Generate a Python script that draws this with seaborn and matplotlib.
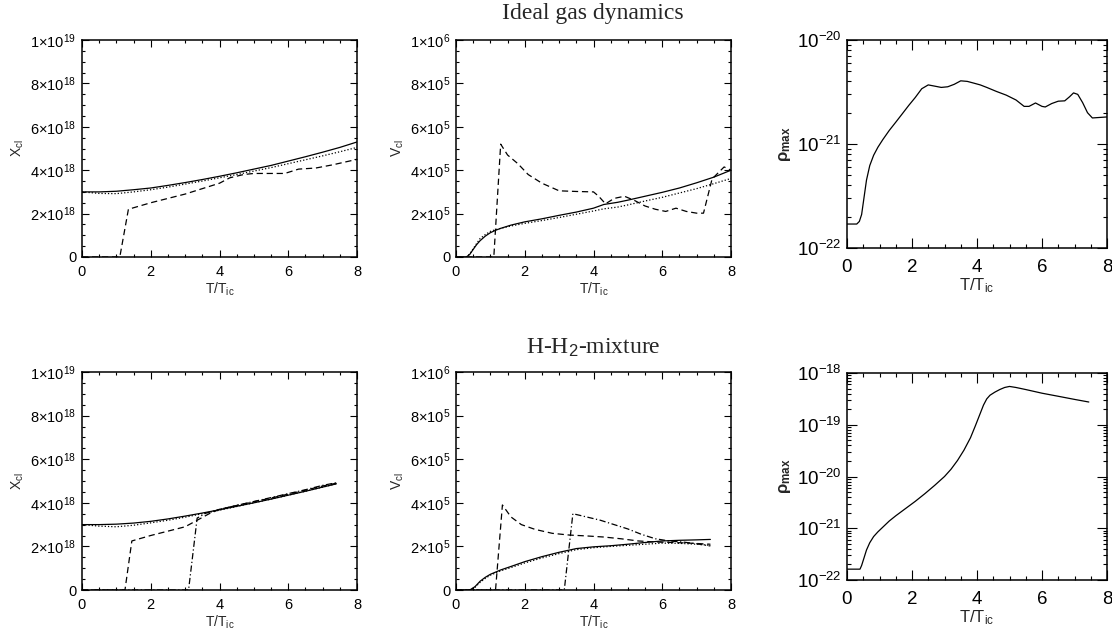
import numpy as np
import matplotlib
matplotlib.use("Agg")
import matplotlib.pyplot as plt
import seaborn as sns
from matplotlib.ticker import FixedLocator, AutoMinorLocator, NullFormatter

# ---------------- data ----------------
titles = ["Ideal gas dynamics", "H-H$_2$-mixture"]
x_ticks = [0, 2, 4, 6, 8]
X_ticks = [0, 2e18, 4e18, 6e18, 8e18, 1e19]
X_ticklabels = ["0", "2×10$^{18}$", "4×10$^{18}$", "6×10$^{18}$", "8×10$^{18}$", "1×10$^{19}$"]
V_ticks = [0, 2e5, 4e5, 6e5, 8e5, 1e6]
V_ticklabels = ["0", "2×10$^{5}$", "4×10$^{5}$", "6×10$^{5}$", "8×10$^{5}$", "1×10$^{6}$"]
rho_ticks_gas = [1e-22, 1e-21, 1e-20]
rho_ticklabels_gas = ["10$^{-22}$", "10$^{-21}$", "10$^{-20}$"]
rho_ticks_mix = [1e-22, 1e-21, 1e-20, 1e-19, 1e-18]
rho_ticklabels_mix = ["10$^{-22}$", "10$^{-21}$", "10$^{-20}$", "10$^{-19}$", "10$^{-18}$"]

# Ideal gas: X (units of 1e18)
t_X_gas = [0, 0.5, 1, 1.5, 2, 2.5, 3, 3.5, 4, 4.5, 5, 5.5, 6, 6.5, 7, 7.5, 8]
X_solid_gas = [3.0, 3.0, 3.03, 3.1, 3.18, 3.3, 3.43, 3.57, 3.72, 3.88, 4.05, 4.22, 4.42, 4.62, 4.83, 5.05, 5.3]
X_dot_gas = [3.0, 2.93, 2.92, 3.0, 3.1, 3.22, 3.36, 3.5, 3.65, 3.8, 3.96, 4.12, 4.3, 4.48, 4.66, 4.85, 5.05]
t_X_dash_gas = [0, 1.1, 1.35, 2, 2.5, 3, 3.5, 4, 4.3, 4.7, 5, 5.5, 5.9, 6.3, 6.8, 7.3, 8]
X_dash_gas = [0, 0, 2.2, 2.5, 2.7, 2.9, 3.15, 3.4, 3.65, 3.8, 3.85, 3.85, 3.85, 4.05, 4.1, 4.25, 4.5]

# Ideal gas: V (units of 1e5)
t_V_gas = [0, 0.3, 0.4, 0.5, 0.6, 0.7, 0.85, 1.0, 1.15, 1.3, 1.6, 2.0, 2.5, 3.0, 3.5, 4.0, 4.3, 4.7, 5.0,
           5.5, 6.0, 6.5, 7.0, 7.5, 8.0]
V_solid_gas = [0, 0, 0.12, 0.35, 0.57, 0.75, 0.96, 1.12, 1.23, 1.32, 1.47, 1.62, 1.76, 1.92, 2.07, 2.25,
               2.42, 2.52, 2.62, 2.8, 2.98, 3.18, 3.42, 3.68, 4.0]
V_dot_gas = [0, 0, 0.14, 0.38, 0.62, 0.85, 1.03, 1.18, 1.26, 1.32, 1.43, 1.55, 1.68, 1.82, 1.97, 2.12,
             2.22, 2.3, 2.4, 2.58, 2.75, 2.95, 3.15, 3.38, 3.62]
t_V_dash_gas = [0, 1.1, 1.3, 1.5, 1.8, 2.1, 2.5, 3.0, 3.5, 4.0, 4.15, 4.35, 4.6, 4.9, 5.2, 5.5, 5.8, 6.1,
                6.4, 6.7, 7.0, 7.2, 7.45, 7.8, 8.0]
V_dash_gas = [0, 0, 5.2, 4.7, 4.3, 3.8, 3.4, 3.05, 3.02, 3.0, 2.8, 2.45, 2.7, 2.8, 2.6, 2.35, 2.2, 2.1,
              2.25, 2.1, 2.02, 2.02, 3.6, 4.15, 4.0]

# Ideal gas: rho_max (units of 1e-21)
t_rho_gas = [0, 0.3, 0.38, 0.45, 0.52, 0.6, 0.7, 0.82, 0.95, 1.1, 1.3, 1.5, 1.7, 1.9, 2.1, 2.3, 2.5, 2.7,
             2.9, 3.1, 3.3, 3.5, 3.7, 3.9, 4.1, 4.3, 4.6, 4.9, 5.2, 5.45, 5.6, 5.8, 6.0, 6.1, 6.3, 6.5,
             6.7, 6.85, 6.97, 7.1, 7.25, 7.4, 7.55, 8.0]
rho_gas = [0.17, 0.17, 0.18, 0.21, 0.3, 0.45, 0.62, 0.78, 0.93, 1.1, 1.35, 1.62, 1.95, 2.35, 2.8, 3.4,
           3.7, 3.6, 3.5, 3.55, 3.75, 4.05, 4.0, 3.85, 3.7, 3.5, 3.2, 2.95, 2.65, 2.3, 2.3, 2.48, 2.3,
           2.27, 2.45, 2.58, 2.6, 2.85, 3.1, 3.0, 2.5, 2.0, 1.78, 1.82]

# H-H2 mixture: X (units of 1e18)
t_X_mix = [0, 0.5, 1, 1.5, 2, 2.5, 3, 3.5, 4, 4.5, 5, 5.5, 6, 6.5, 7, 7.4]
X_solid_mix = [3.0, 3.0, 3.02, 3.07, 3.15, 3.26, 3.39, 3.53, 3.68, 3.84, 4.0, 4.17, 4.35, 4.53, 4.72, 4.87]
X_dot_mix = [3.0, 2.93, 2.9, 2.97, 3.08, 3.2, 3.34, 3.5, 3.66, 3.83, 4.0, 4.17, 4.35, 4.53, 4.72, 4.87]
t_X_dash_mix = [0, 1.25, 1.45, 2, 2.5, 3, 3.35, 3.7, 4, 4.5, 5, 5.5, 6, 6.5, 7, 7.4]
X_dash_mix = [0, 0, 2.25, 2.5, 2.7, 2.9, 3.2, 3.5, 3.7, 3.88, 4.05, 4.22, 4.4, 4.58, 4.77, 4.9]
t_X_dd_mix = [0, 3.1, 3.35, 3.6, 4, 4.5, 5, 5.5, 6, 6.5, 7, 7.4]
X_dd_mix = [0, 0, 3.3, 3.52, 3.7, 3.88, 4.06, 4.24, 4.42, 4.6, 4.8, 4.92]

# H-H2 mixture: V (units of 1e5)
t_V_mix = [0, 0.4, 0.55, 0.7, 0.85, 1.0, 1.3, 1.6, 2.0, 2.5, 3.0, 3.5, 4.0, 4.5, 5.0, 5.5, 6.0, 6.5, 7.0, 7.4]
V_solid_mix = [0, 0, 0.15, 0.4, 0.58, 0.72, 0.92, 1.08, 1.3, 1.53, 1.73, 1.9, 1.98, 2.03, 2.1, 2.18, 2.25,
               2.28, 2.3, 2.32]
V_dot_mix = [0, 0, 0.12, 0.35, 0.53, 0.68, 0.88, 1.03, 1.24, 1.47, 1.67, 1.85, 1.94, 2.0, 2.05, 2.1, 2.15,
             2.14, 2.1, 2.05]
t_V_dash_mix = [0, 1.15, 1.35, 1.6, 1.9, 2.3, 2.8, 3.3, 3.8, 4.3, 4.8, 5.3, 5.8, 6.3, 6.8, 7.4]
V_dash_mix = [0, 0, 3.9, 3.35, 3.0, 2.78, 2.6, 2.52, 2.48, 2.43, 2.35, 2.25, 2.2, 2.18, 2.15, 2.1]
t_V_dd_mix = [0, 3.15, 3.4, 3.8, 4.2, 4.6, 5.0, 5.4, 5.8, 6.2, 6.6, 7.0, 7.4]
V_dd_mix = [0, 0, 3.5, 3.35, 3.2, 3.0, 2.8, 2.55, 2.35, 2.25, 2.2, 2.12, 2.02]

# H-H2 mixture: rho_max (units of 1e-21)
t_rho_mix = [0, 0.4, 0.45, 0.52, 0.6, 0.7, 0.82, 0.95, 1.1, 1.3, 1.5, 1.8, 2.1, 2.4, 2.7, 3.0, 3.2, 3.4,
             3.6, 3.8, 3.95, 4.1, 4.2, 4.3, 4.4, 4.55, 4.7, 4.85, 5.0, 5.2, 5.5, 6.0, 6.5, 7.0, 7.44]
rho_mix = [0.162, 0.162, 0.191, 0.263, 0.380, 0.525, 0.692, 0.851, 1.047, 1.38, 1.74, 2.40, 3.31, 4.68,
           6.76, 10.0, 13.8, 20.4, 32.4, 56.2, 95.5, 166, 240, 316, 372, 427, 479, 525, 550, 525, 479,
           407, 355, 309, 275]

# ---------------- style ----------------
sns.set_theme(style="ticks")
plt.rcParams["font.family"] = ["Liberation Sans", "DejaVu Sans"]
plt.rcParams["mathtext.fontset"] = "custom"
plt.rcParams["mathtext.rm"] = "Liberation Sans"
plt.rcParams["mathtext.it"] = "Liberation Sans:italic"
plt.rcParams["mathtext.bf"] = "Liberation Sans:bold"

LS = {"solid": "-", "dot": (0, (1, 1.6)), "dash": (0, (5, 3)), "dd": (0, (5, 2, 1, 2))}
LW = 0.9
XLABEL = "T/T$_{\\mathrm{ic}}$"

W, H = 1112, 635
fig = plt.figure(figsize=(W / 100, H / 100), dpi=100)

def rect(l, r, t, b):
    return [l / W, 1 - b / H, (r - l) / W, (b - t) / H]

ax_tl = fig.add_axes(rect(82, 357, 40, 257))
ax_tm = fig.add_axes(rect(456, 731, 40, 257))
ax_tr = fig.add_axes(rect(847, 1107, 40, 248))
ax_bl = fig.add_axes(rect(82, 357, 372, 590))
ax_bm = fig.add_axes(rect(456, 731, 372, 590))
ax_br = fig.add_axes(rect(847, 1107, 373, 580))

def draw(ax, t, y, style, scale=1.0):
    sns.lineplot(x=t, y=np.asarray(y) * scale, ax=ax, color="black", linestyle=LS[style],
                 linewidth=LW, estimator=None, sort=False, legend=False)

def frame(ax):
    for s in ax.spines.values():
        s.set_linewidth(1.1)
        s.set_color("black")

def style_lin(ax, yticks, ylabels, ymax, ylabel):
    ax.set_xlim(0, 8)
    ax.set_ylim(0, ymax)
    ax.xaxis.set_major_locator(FixedLocator(x_ticks))
    ax.set_xticklabels([str(v) for v in x_ticks])
    ax.yaxis.set_major_locator(FixedLocator(yticks))
    ax.set_yticklabels(ylabels)
    ax.xaxis.set_minor_locator(AutoMinorLocator(4))
    ax.yaxis.set_minor_locator(AutoMinorLocator(4))
    ax.tick_params(which="both", direction="in", top=True, right=True, width=0.8, colors="black",
                   labelsize=10.5)
    ax.tick_params(axis="x", pad=6)
    ax.tick_params(axis="y", pad=4)
    ax.tick_params(which="major", length=5)
    ax.tick_params(which="minor", length=2.5)
    ax.set_xlabel(XLABEL, fontsize=10, labelpad=1)
    ax.set_ylabel(ylabel, fontsize=10, labelpad=3)
    frame(ax)

def style_log(ax, ylo, yhi, yticks, ylabels, ylabel):
    ax.set_yscale("log")
    ax.set_xlim(0, 8)
    ax.set_ylim(ylo, yhi)
    ax.xaxis.set_major_locator(FixedLocator(x_ticks))
    ax.set_xticklabels([str(v) for v in x_ticks])
    ax.xaxis.set_minor_locator(AutoMinorLocator(4))
    ax.yaxis.set_major_locator(FixedLocator(yticks))
    ax.set_yticklabels(ylabels)
    minors = [m * d for d in yticks[:-1] for m in range(2, 10)]
    ax.yaxis.set_minor_locator(FixedLocator(minors))
    ax.yaxis.set_minor_formatter(NullFormatter())
    ax.tick_params(which="both", direction="in", top=True, right=True, width=0.8, colors="black",
                   labelsize=13.5)
    ax.tick_params(axis="x", pad=8)
    ax.tick_params(axis="y", pad=4)
    ax.tick_params(which="major", length=7)
    ax.tick_params(which="minor", length=3)
    ax.set_xlabel(XLABEL, fontsize=12, labelpad=0)
    ax.set_ylabel(ylabel, fontsize=12, fontweight="bold", labelpad=3)
    frame(ax)

# top row: ideal gas
draw(ax_tl, t_X_gas, X_solid_gas, "solid", 1e18)
draw(ax_tl, t_X_gas, X_dot_gas, "dot", 1e18)
draw(ax_tl, t_X_dash_gas, X_dash_gas, "dash", 1e18)
style_lin(ax_tl, X_ticks, X_ticklabels, 1e19, "X$_{\\mathrm{cl}}$")

draw(ax_tm, t_V_gas, V_solid_gas, "solid", 1e5)
draw(ax_tm, t_V_gas, V_dot_gas, "dot", 1e5)
draw(ax_tm, t_V_dash_gas, V_dash_gas, "dash", 1e5)
style_lin(ax_tm, V_ticks, V_ticklabels, 1e6, "V$_{\\mathrm{cl}}$")

draw(ax_tr, t_rho_gas, rho_gas, "solid", 1e-21)
style_log(ax_tr, 1e-22, 1e-20, rho_ticks_gas, rho_ticklabels_gas, "ρ$_{\\mathbf{max}}$")

# bottom row: H-H2 mixture
draw(ax_bl, t_X_mix, X_solid_mix, "solid", 1e18)
draw(ax_bl, t_X_mix, X_dot_mix, "dot", 1e18)
draw(ax_bl, t_X_dash_mix, X_dash_mix, "dash", 1e18)
draw(ax_bl, t_X_dd_mix, X_dd_mix, "dd", 1e18)
style_lin(ax_bl, X_ticks, X_ticklabels, 1e19, "X$_{\\mathrm{cl}}$")

draw(ax_bm, t_V_mix, V_solid_mix, "solid", 1e5)
draw(ax_bm, t_V_mix, V_dot_mix, "dot", 1e5)
draw(ax_bm, t_V_dash_mix, V_dash_mix, "dash", 1e5)
draw(ax_bm, t_V_dd_mix, V_dd_mix, "dd", 1e5)
style_lin(ax_bm, V_ticks, V_ticklabels, 1e6, "V$_{\\mathrm{cl}}$")

draw(ax_br, t_rho_mix, rho_mix, "solid", 1e-21)
style_log(ax_br, 1e-22, 1e-18, rho_ticks_mix, rho_ticklabels_mix, "ρ$_{\\mathbf{max}}$")

serif = ["Liberation Serif", "DejaVu Serif"]
fig.text(593 / W, 1 - 14 / H, titles[0], ha="center", va="center", fontsize=17, family=serif)
fig.text(593 / W, 1 - 348 / H, titles[1], ha="center", va="center", fontsize=17, family=serif)

fig.savefig("out.png", dpi=100)
